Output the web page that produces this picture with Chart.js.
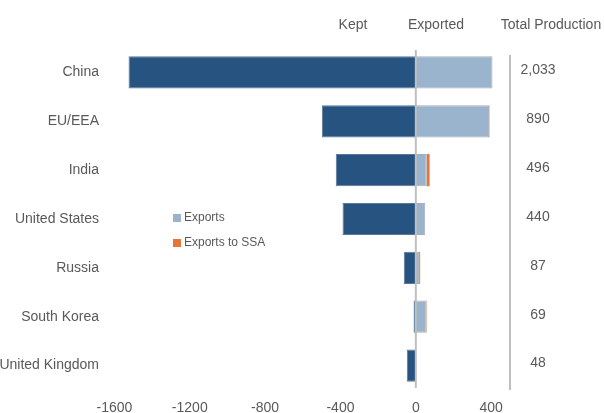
<!DOCTYPE html>
<html>
<head>
<meta charset="utf-8">
<script src="https://cdn.jsdelivr.net/npm/chart.js@4/dist/chart.umd.min.js"></script>
<style>
  html, body { margin: 0; padding: 0; background: #fff; }
  #wrap { width: 604px; height: 413px; }
</style>
</head>
<body>
<div id="wrap"><canvas id="c" width="604" height="413"></canvas></div>
<script>
const countries = ['China', 'EU/EEA', 'India', 'United States', 'Russia', 'South Korea', 'United Kingdom'];
const kept = [-1525, -499, -425, -389, -64, -12, -48];
const exports = [407, 389, 58, 50, 18, 57, 0];
const exportsToSSA = [0, 2, 15, 0, 5, 2, 0];
const totalProduction = ['2,033', '890', '496', '440', '87', '69', '48'];
const xTicks = [-1600, -1200, -800, -400, 0, 400];

const textColor = '#595959';
const font = 'Liberation Sans, Arial, sans-serif';

// Headers, zero line, total-production divider and column, and inline legend
const overlay = {
  id: 'overlay',
  afterDatasetsDraw(chart) {
    const { ctx, chartArea: a, scales: { x, y } } = chart;
    ctx.save();
    const x0 = x.getPixelForValue(0);
    const xDiv = x.getPixelForValue(500);
    ctx.strokeStyle = '#BFBFBF';
    ctx.lineWidth = 2;
    ctx.beginPath();
    ctx.moveTo(x0, a.top + 2);
    ctx.lineTo(x0, a.bottom - 2);
    ctx.stroke();
    ctx.beginPath();
    ctx.moveTo(xDiv, a.top + 7);
    ctx.lineTo(xDiv, a.bottom);
    ctx.stroke();

    ctx.fillStyle = textColor;
    ctx.textBaseline = 'middle';
    ctx.textAlign = 'center';
    ctx.font = '14px ' + font;
    ctx.fillText('Kept', 353, 25);
    ctx.fillText('Exported', 436, 25);
    ctx.fillText('Total Production', 551, 25);

    totalProduction.forEach((t, i) => {
      ctx.fillText(t, 538, y.getPixelForValue(i) - 2);
    });

    // legend
    ctx.font = '12px ' + font;
    ctx.textAlign = 'left';
    const ds = chart.data.datasets;
    [1, 2].forEach((k, j) => {
      const ly = 218 + j * 25;
      ctx.fillStyle = ds[k].backgroundColor;
      ctx.fillRect(173, ly - 4, 8, 8);
      ctx.fillStyle = textColor;
      ctx.fillText(ds[k].label, 184, ly);
    });
    ctx.restore();
  }
};

new Chart(document.getElementById('c'), {
  type: 'bar',
  data: {
    labels: countries,
    datasets: [
      { label: 'Kept', data: kept, backgroundColor: '#26537F', borderColor: '#5a7899', borderWidth: 1 },
      { label: 'Exports', data: exports, backgroundColor: '#9BB4CD', borderColor: '#A8AEB5', borderWidth: 1 },
      { label: 'Exports to SSA', data: exportsToSSA, backgroundColor: '#E9743A', borderWidth: 0 }
    ]
  },
  options: {
    indexAxis: 'y',
    responsive: false,
    animation: false,
    layout: { padding: { top: 48, right: 94, left: 0, bottom: 0 } },
    datasets: { bar: { categoryPercentage: 1, barPercentage: 0.66 } },
    plugins: { legend: { display: false }, tooltip: { enabled: false } },
    scales: {
      x: {
        stacked: true,
        min: -1650,
        max: 500,
        afterBuildTicks: s => { s.ticks = xTicks.map(v => ({ value: v })); },
        afterFit: s => { s.height = 23; },
        grid: { display: false, drawTicks: false },
        border: { display: false },
        ticks: {
          color: textColor,
          font: { family: font, size: 14 },
          padding: 10,
          callback: v => String(v)
        }
      },
      y: {
        stacked: true,
        afterFit: s => { s.width = 105; },
        grid: { display: false, drawTicks: false },
        border: { display: false },
        ticks: { color: textColor, font: { family: font, size: 14 }, padding: 6 }
      }
    }
  },
  plugins: [overlay]
});
</script>
</body>
</html>
